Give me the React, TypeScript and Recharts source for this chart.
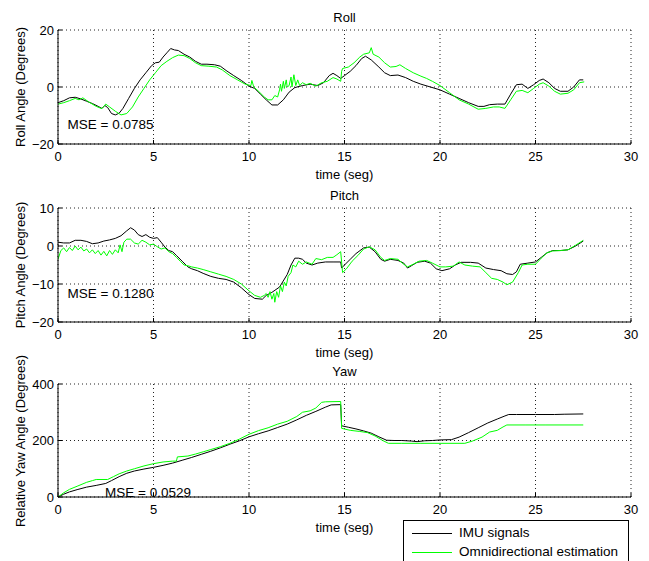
import React from 'react';
import { LineChart, Line, XAxis, YAxis, CartesianGrid } from 'recharts';

type Pt = [number, number];

const timeTicks = [0, 5, 10, 15, 20, 25, 30];
const rollTicks = [-20, 0, 20];
const pitchTicks = [-20, -10, 0, 10];
const yawTicks = [0, 200, 400];
const seriesNames = ['IMU signals', 'Omnidirectional estimation'];
const seriesColors = ['#000000', '#00ff00'];

const rollImu: Pt[] = [
  [0, -5.5], [0.3, -4.8], [0.6, -3.8], [0.9, -3.6], [1.2, -4.2], [1.5, -5], [1.8, -5.8], [2.1, -6.8], [2.3, -7.5], [2.45, -6.5],
  [2.6, -7.2], [2.8, -9.3], [3.0, -9.8], [3.2, -9.2], [3.4, -7.5], [3.7, -4], [4.0, -0.5], [4.3, 2.5], [4.6, 5], [4.9, 7.5],
  [5.1, 8.5], [5.3, 8.7], [5.5, 10.5], [5.7, 12], [5.9, 13.5], [6.1, 13], [6.3, 12.8], [6.6, 11.5], [6.9, 10.5], [7.2, 9],
  [7.5, 8], [7.8, 8], [8.2, 7.8], [8.5, 7.3], [8.8, 5.8], [9.2, 4], [9.6, 2.3], [10.0, 0.3], [10.3, -0.5], [10.6, -2.5],
  [10.9, -4.5], [11.2, -6.3], [11.5, -6.3], [11.8, -4.5], [12.1, -1.8], [12.4, -0.2], [12.8, 0.5], [13.2, 1], [13.6, 0.5], [13.9, 1.5],
  [14.2, 4], [14.4, 4.8], [14.6, 4], [14.8, 3], [15.0, 4], [15.3, 5.5], [15.6, 7.5], [15.9, 10], [16.1, 10.8], [16.4, 9.5],
  [16.8, 7], [17.1, 5], [17.4, 4], [17.8, 4.2], [18.2, 3.3], [18.6, 2], [19.0, 1], [19.5, 0], [20.0, -1], [20.5, -2.5],
  [21.0, -4], [21.5, -5.5], [22.0, -6.8], [22.3, -6.8], [22.6, -6.2], [23.0, -6], [23.4, -6], [23.7, -2.5], [24.0, 0.8], [24.3, 1],
  [24.6, -0.5], [24.9, 0.8], [25.2, 2.3], [25.4, 2.8], [25.7, 1.5], [26.0, -0.5], [26.3, -1.5], [26.7, -1.5], [27.0, 0], [27.3, 2.5],
  [27.5, 2.5],
];

const rollOmni: Pt[] = [
  [0, -6], [0.3, -5.5], [0.6, -4.8], [0.9, -4], [1.1, -4.5], [1.3, -3.8], [1.6, -5.2], [2.0, -6.8], [2.3, -7.6], [2.5, -6],
  [2.7, -7], [3.0, -8.5], [3.3, -9.8], [3.6, -9.3], [3.9, -7], [4.2, -3.5], [4.5, -0.5], [4.8, 2.5], [5.1, 5], [5.4, 7.5],
  [5.7, 9], [6.0, 10.3], [6.3, 11.2], [6.6, 11], [6.9, 10], [7.2, 8.5], [7.5, 7.5], [7.9, 7.3], [8.3, 7], [8.6, 6],
  [9.0, 4], [9.4, 2.5], [9.8, 1], [10.1, 0.5], [10.15, 2.3], [10.25, 0], [10.5, -1.5], [10.8, -3.5], [11.0, -4.5], [11.2, -4.5],
  [11.35, -3], [11.5, -3.5], [11.6, -1], [11.65, 1], [11.7, -1.5], [11.8, 2], [11.85, -0.5], [11.95, 2.5], [12.0, 0], [12.1, 0.5],
  [12.2, 3.5], [12.25, 0], [12.35, 4.3], [12.45, 0.5], [12.55, 2.5], [12.65, 0.5], [12.8, 1.5], [13.0, 0.8], [13.2, 1.3], [13.5, 0.3],
  [13.8, 1.5], [14.1, 2], [14.4, 3.3], [14.6, 2.8], [14.8, 2], [14.85, 5.5], [14.9, 6.5], [15.2, 7], [15.5, 8.5], [15.8, 10.5],
  [16.0, 11.5], [16.3, 12], [16.4, 13.8], [16.5, 11.5], [16.8, 10.5], [17.1, 8.5], [17.4, 7], [17.7, 7.2], [17.9, 7.8], [18.2, 6.5],
  [18.6, 5], [19.0, 3.8], [19.3, 3], [19.6, 2], [20.0, 0.5], [20.5, -2], [21.0, -4.5], [21.5, -6], [22.0, -7.8], [22.4, -7.5],
  [22.8, -7], [23.1, -7], [23.4, -7.5], [23.7, -4.5], [24.0, -1.5], [24.3, -1.2], [24.6, -2], [24.9, -0.5], [25.2, 1], [25.4, 1.5],
  [25.7, 0.3], [26.0, -1.5], [26.3, -2.5], [26.7, -2.2], [27.0, -1], [27.3, 1.5], [27.55, 1.8],
];

const pitchImu: Pt[] = [
  [0, 1], [0.3, 0.8], [0.6, 0.8], [0.9, 1.5], [1.2, 1.5], [1.5, 1.2], [1.8, 0.6], [2.1, 0.8], [2.4, 1.3], [2.7, 1.6],
  [3.0, 2], [3.3, 2.7], [3.6, 4], [3.8, 4.8], [4.0, 4.2], [4.2, 3], [4.4, 2.5], [4.6, 3], [4.8, 2.3], [5.0, 2],
  [5.2, 2.2], [5.4, 1], [5.6, -0.3], [5.8, -1.2], [6.0, -1.5], [6.2, -2.5], [6.5, -4], [6.8, -5.5], [7.0, -6], [7.3, -6.5],
  [7.6, -7.2], [8.0, -8], [8.4, -8.5], [8.8, -8.8], [9.2, -9.5], [9.6, -11], [10.0, -12.8], [10.3, -13.8], [10.7, -14], [10.9, -13],
  [11.2, -12.2], [11.6, -10.8], [12.0, -7.5], [12.2, -5], [12.4, -3.2], [12.6, -3.2], [12.8, -3.5], [13.0, -4.5], [13.3, -5], [13.6, -4.5],
  [14.0, -4.2], [14.4, -4.2], [14.8, -4.2], [14.85, -5.8], [15.0, -5], [15.3, -3.5], [15.6, -2], [16.0, -0.5], [16.3, -0.3], [16.6, -1.5],
  [16.9, -3.5], [17.1, -4], [17.4, -3.5], [17.8, -3.8], [18.1, -4.5], [18.3, -5.8], [18.5, -5.2], [18.8, -4.3], [19.2, -4], [19.5, -4.5],
  [19.8, -6], [20.1, -6.5], [20.5, -6], [20.8, -5], [21.1, -4.3], [21.6, -4.3], [22.0, -4.5], [22.4, -5.8], [22.8, -6.2], [23.2, -6.5],
  [23.5, -7.3], [23.8, -7.5], [24.0, -6.8], [24.2, -4.8], [24.6, -4.5], [25.0, -4.2], [25.3, -3], [25.6, -1.8], [25.9, -1.2], [26.3, -1.2],
  [26.7, -1], [27.1, 0], [27.5, 1.3],
];

const pitchOmni: Pt[] = [
  [0, -3.5], [0.15, -1.2], [0.3, -0.5], [0.45, -1.5], [0.6, -0.4], [0.75, -1.2], [0.9, 0], [1.05, -1], [1.2, -0.3], [1.35, -1.3],
  [1.5, -0.8], [1.65, -1.8], [1.8, -1], [1.95, -2], [2.1, -1.2], [2.25, -2.4], [2.4, -1.4], [2.55, -2.6], [2.7, -1.2], [2.85, -2.2],
  [3.0, -1], [3.15, -1.8], [3.25, 0.3], [3.35, -1.5], [3.45, 1], [3.6, 1.8], [3.8, 1.8], [4.0, 0.8], [4.2, 0.5], [4.4, 1.5],
  [4.6, 1], [4.8, 0.3], [5.0, 0.5], [5.2, -0.2], [5.4, -0.8], [5.6, -0.5], [5.8, -1.5], [6.0, -2], [6.2, -3], [6.4, -4],
  [6.6, -5], [6.8, -5.2], [7.0, -5.5], [7.3, -5.8], [7.6, -6.2], [8.0, -6.8], [8.4, -7.4], [8.8, -8], [9.2, -8.8], [9.6, -10],
  [10.0, -11.8], [10.3, -13], [10.6, -13.5], [10.8, -13], [10.9, -12.5], [11.0, -13.5], [11.1, -12], [11.2, -14], [11.3, -12.5], [11.35, -14.8],
  [11.45, -12], [11.55, -13.5], [11.65, -10.5], [11.75, -12], [11.85, -9.5], [11.95, -10.5], [12.05, -8], [12.2, -7], [12.3, -5], [12.45, -5.5],
  [12.6, -4], [12.8, -4.8], [13.0, -4.2], [13.3, -4.8], [13.5, -3.3], [13.8, -3.6], [14.1, -3], [14.4, -3], [14.6, -2.3], [14.8, -1.5],
  [14.9, -7], [15.1, -6], [15.4, -4], [15.7, -2.5], [16.0, -0.8], [16.3, -0.2], [16.6, -1], [16.9, -3], [17.1, -3.8], [17.4, -3.3],
  [17.8, -3.5], [18.1, -4.8], [18.3, -5.5], [18.6, -4.8], [18.9, -4], [19.3, -3.8], [19.6, -4.5], [20.0, -5.5], [20.3, -5.5], [20.7, -5.3],
  [21.0, -4.2], [21.3, -5], [21.7, -5.3], [22.1, -5.5], [22.4, -7], [22.7, -8.5], [23.0, -8.8], [23.3, -9.5], [23.5, -10.2], [23.8, -9.5],
  [24.1, -7], [24.3, -5], [24.6, -4.8], [25.0, -4.8], [25.3, -3.2], [25.6, -1.8], [25.9, -1.3], [26.3, -1.2], [26.7, -1], [27.1, 0.2],
  [27.5, 1.5],
];

const yawImu: Pt[] = [
  [0, 0], [0.3, 10], [0.6, 18], [1.0, 26], [1.5, 35], [2.0, 41], [2.5, 48], [2.8, 58], [3.2, 72], [3.6, 84],
  [4.0, 92], [4.5, 99], [5.0, 105], [5.5, 112], [6.0, 120], [6.5, 130], [7.0, 140], [7.5, 151], [8.0, 162], [8.5, 174],
  [9.0, 187], [9.5, 199], [10.0, 213], [10.5, 224], [11.0, 234], [11.5, 246], [12.0, 258], [12.5, 273], [13.0, 289], [13.5, 303],
  [14.0, 318], [14.3, 326], [14.8, 327], [14.85, 252], [15.2, 247], [15.6, 241], [16.0, 234], [16.4, 226], [16.8, 213], [17.2, 201],
  [17.6, 200], [18.0, 200], [18.5, 198], [18.8, 196], [19.2, 199], [19.6, 200], [20.0, 202], [20.6, 203], [21.0, 212], [21.5, 228],
  [22.0, 245], [22.5, 262], [23.0, 276], [23.4, 287], [23.6, 292], [24.0, 292], [25.0, 292], [26.0, 292], [26.5, 293], [27.5, 294],
];

const yawOmni: Pt[] = [
  [0, 0], [0.3, 15], [0.6, 27], [1.0, 38], [1.5, 52], [1.8, 58], [2.0, 62], [2.6, 62], [2.9, 72], [3.2, 82],
  [3.6, 92], [4.0, 100], [4.5, 110], [5.0, 118], [5.5, 124], [6.0, 127], [6.2, 127], [6.25, 142], [6.8, 145], [7.2, 152],
  [7.6, 160], [8.0, 168], [8.5, 178], [9.0, 190], [9.5, 205], [10.0, 222], [10.5, 235], [11.0, 245], [11.5, 258], [12.0, 268],
  [12.5, 285], [12.8, 300], [13.2, 305], [13.5, 315], [13.8, 335], [14.0, 337], [14.8, 338], [14.85, 243], [15.3, 236], [15.8, 232],
  [16.2, 228], [16.6, 216], [17.0, 200], [17.3, 190], [18.0, 190], [19.0, 190], [20.0, 190], [21.3, 190], [21.7, 198], [22.2, 212],
  [22.6, 230], [23.0, 236], [23.3, 248], [23.5, 255], [24.5, 255], [25.5, 255], [27.5, 255],
];

const FONT = '"Liberation Sans", Arial, Helvetica, sans-serif';
const W = 649;
const fmt = (v: number) => String(v).replace('-', '\u2212');
const rows = (pts: Pt[]) => pts.map(([t, v]) => ({ t, v }));

type PanelProps = {
  top: number;
  plotH: number;
  title: string;
  ylabel: string;
  domain: [number, number];
  ticks: number[];
  imu: Pt[];
  omni: Pt[];
  mse: string;
  mseX: number;
  mseY: number;
};

function Panel({ top, plotH, title, ylabel, domain, ticks, imu, omni, mse, mseX, mseY }: PanelProps) {
  const H = plotH + 56;
  const offTop = top - 30;
  const tickStyle = { fontSize: 13, fill: '#000', fontFamily: FONT };
  const txt: React.CSSProperties = {
    position: 'absolute',
    whiteSpace: 'nowrap',
    fontFamily: FONT,
    fontSize: 13,
    lineHeight: '15px',
    color: '#000',
  };
  return (
    <div style={{ position: 'absolute', left: 0, top: offTop, width: W, height: H }}>
      <LineChart width={W} height={H} margin={{ top: 30, right: 18, bottom: 6, left: 18 }}>
        <CartesianGrid stroke="#222" strokeDasharray="1 3" />
        <XAxis
          dataKey="t"
          type="number"
          domain={[0, 30]}
          ticks={timeTicks}
          interval={0}
          allowDataOverflow
          height={20}
          tickSize={-4}
          tickMargin={12}
          tick={tickStyle}
          tickFormatter={fmt}
          stroke="#000"
        />
        <XAxis
          xAxisId="top"
          orientation="top"
          type="number"
          domain={[0, 30]}
          ticks={timeTicks}
          interval={0}
          height={0}
          tickSize={-4}
          tick={false}
          stroke="#000"
        />
        <YAxis
          type="number"
          domain={domain}
          ticks={ticks}
          interval={0}
          allowDataOverflow
          width={40}
          tickSize={-4}
          tickMargin={8}
          tick={tickStyle}
          tickFormatter={fmt}
          stroke="#000"
        />
        <YAxis
          yAxisId="right"
          orientation="right"
          type="number"
          domain={domain}
          ticks={ticks}
          interval={0}
          width={0}
          tickSize={-4}
          tick={false}
          stroke="#000"
        />
        <Line data={rows(imu)} dataKey="v" name={seriesNames[0]} stroke={seriesColors[0]} strokeWidth={1} dot={false} isAnimationActive={false} />
        <Line data={rows(omni)} dataKey="v" name={seriesNames[1]} stroke={seriesColors[1]} strokeWidth={1} dot={false} isAnimationActive={false} />
      </LineChart>
      <div style={{ ...txt, left: 344.5, top: 16.5, transform: 'translate(-50%, -50%)' }}>{title}</div>
      <div style={{ ...txt, left: 344.5, top: 30 + plotH + 29.5, transform: 'translate(-50%, -50%)' }}>time (seg)</div>
      <div style={{ ...txt, left: 20, top: 30 + plotH / 2, transform: 'translate(-50%, -50%) rotate(-90deg)' }}>{ylabel}</div>
      <div style={{ ...txt, fontSize: 13.5, left: mseX, top: mseY - offTop, transform: 'translate(0, -50%)' }}>{mse}</div>
    </div>
  );
}

export default function App() {
  const legendText: React.CSSProperties = {
    position: 'absolute',
    left: 55,
    whiteSpace: 'nowrap',
    fontFamily: FONT,
    fontSize: 13.5,
    lineHeight: '16px',
    transform: 'translate(0, -50%)',
    color: '#000',
  };
  return (
    <div style={{ position: 'absolute', left: 0, top: 0, width: W, height: 561, background: '#fff', overflow: 'hidden' }}>
      <Panel top={30} plotH={114} title="Roll" ylabel="Roll Angle (Degrees)" domain={[-20, 20]} ticks={rollTicks} imu={rollImu} omni={rollOmni} mse="MSE = 0.0785" mseX={67.5} mseY={124} />
      <Panel top={208} plotH={114} title="Pitch" ylabel="Pitch Angle (Degrees)" domain={[-20, 10]} ticks={pitchTicks} imu={pitchImu} omni={pitchOmni} mse="MSE = 0.1280" mseX={67.5} mseY={293} />
      <Panel top={384} plotH={113} title="Yaw" ylabel="Relative Yaw Angle (Degrees)" domain={[0, 400]} ticks={yawTicks} imu={yawImu} omni={yawOmni} mse="MSE = 0.0529" mseX={105} mseY={491.5} />
      <div style={{ position: 'absolute', left: 403, top: 520, width: 224, height: 60, border: '1px solid #000', background: '#fff' }}>
        {seriesNames.map((n, i) => (
          <React.Fragment key={n}>
            <div style={{ position: 'absolute', left: 8, width: 40, top: 11.5 + i * 19, height: 0, borderTop: `1px solid ${seriesColors[i]}` }} />
            <div style={{ ...legendText, top: 12 + i * 19 }}>{n}</div>
          </React.Fragment>
        ))}
      </div>
    </div>
  );
}
